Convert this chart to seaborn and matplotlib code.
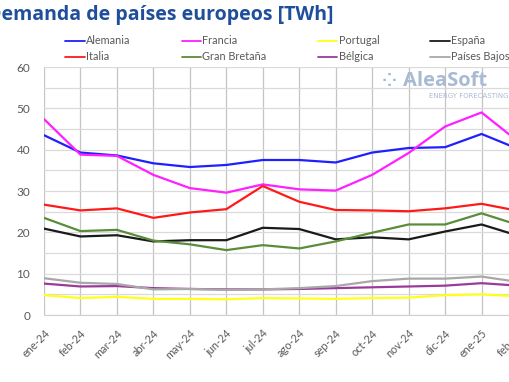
import pandas as pd
import numpy as np
import matplotlib
matplotlib.use("Agg")
import matplotlib.pyplot as plt
import seaborn as sns

# Monthly demand per country [TWh]
months = ['ene-24', 'feb-24', 'mar-24', 'abr-24', 'may-24', 'jun-24', 'jul-24',
          'ago-24', 'sep-24', 'oct-24', 'nov-24', 'dic-24', 'ene-25', 'feb-25']

alemania = [43.5, 39.3, 38.6, 36.7, 35.8, 36.3, 37.5, 37.5, 36.9, 39.3, 40.4, 40.6, 43.8, 40.2]
francia = [47.4, 38.8, 38.5, 33.9, 30.7, 29.6, 31.6, 30.4, 30.1, 33.9, 39.2, 45.6, 49.0, 42.0]
portugal = [4.8, 4.1, 4.4, 3.9, 3.9, 3.8, 4.1, 4.0, 3.9, 4.1, 4.2, 4.8, 5.0, 4.5]
espana = [20.9, 19.0, 19.3, 17.8, 18.1, 18.1, 21.1, 20.8, 18.3, 18.8, 18.3, 20.2, 21.9, 19.2]
italia = [26.7, 25.3, 25.8, 23.5, 24.8, 25.6, 31.2, 27.4, 25.4, 25.3, 25.1, 25.8, 26.9, 25.2]
gran_bretana = [23.5, 20.3, 20.6, 18.0, 17.1, 15.7, 16.9, 16.1, 17.8, 19.9, 21.9, 21.9, 24.6, 21.8]
belgica = [7.6, 6.9, 7.0, 6.5, 6.3, 6.2, 6.2, 6.3, 6.5, 6.7, 6.9, 7.1, 7.7, 7.1]
paises_bajos = [8.9, 7.8, 7.5, 6.2, 6.3, 6.1, 6.2, 6.5, 7.0, 8.2, 8.8, 8.8, 9.3, 8.0]

series = {
    'Alemania': alemania,
    'Francia': francia,
    'Portugal': portugal,
    'España': espana,
    'Italia': italia,
    'Gran Bretaña': gran_bretana,
    'Bélgica': belgica,
    'Países Bajos': paises_bajos,
}
colors = {
    'Alemania': '#1f1fff',
    'Francia': '#ff1fff',
    'Portugal': '#ffff1a',
    'España': '#1a1a1a',
    'Italia': '#ff1a1a',
    'Gran Bretaña': '#5b8c3a',
    'Bélgica': '#9b3a9b',
    'Países Bajos': '#a8a8a8',
}

df = pd.DataFrame(series)
df['idx'] = np.arange(len(months))
long = df.melt(id_vars='idx', var_name='País', value_name='TWh')

sns.set_style("white")
plt.rcParams['font.family'] = ['Lato', 'DejaVu Sans']

fig = plt.figure(figsize=(5.1, 3.82), dpi=100)
ax = fig.add_axes([44 / 510, 1 - 315 / 382, 474 / 510, 248 / 382])

sns.lineplot(data=long, x='idx', y='TWh', hue='País', palette=colors,
             hue_order=list(series.keys()), linewidth=1.6, legend=False, ax=ax)

ax.set_xlim(0, len(months) - 1)
ax.set_ylim(0, 60)
ax.set_xticks(np.arange(len(months)))
ax.set_xticklabels(months, rotation=45, ha='right', rotation_mode='anchor',
                   fontsize=7.8, color='#595959')
ax.set_yticks(np.arange(0, 61, 10))
ax.set_yticks(np.arange(0, 61, 5), minor=True)
ax.tick_params(axis='y', labelsize=8.5, colors='#595959', length=0, pad=10)
ax.tick_params(axis='x', length=0, pad=9)
ax.set_xlabel('')
ax.set_ylabel('')

ax.grid(axis='x', color='#c4c4c4', linewidth=0.9)
ax.grid(axis='y', which='both', color='#dadada', linewidth=0.9)
ax.set_axisbelow(True)
for s in ['top', 'right', 'left']:
    ax.spines[s].set_visible(False)
ax.spines['bottom'].set_color('#d0d0d0')

# legend, 4 columns filled row by row
handles = [plt.Line2D([], [], color=colors[k], linewidth=1.3) for k in series]
labels = list(series.keys())
order = [0, 4, 1, 5, 2, 6, 3, 7]
fig.legend([handles[i] for i in order], [labels[i] for i in order], ncol=4,
           loc='upper left', bbox_to_anchor=(60 / 510, 1 - 62 / 382, 455 / 510, 32 / 382),
           mode='expand', frameon=False, fontsize=7.8, labelcolor='#595959',
           handlelength=1.8, handletextpad=0.1, labelspacing=0.45, borderpad=0)

fig.text(-0.025, 1 - 15 / 382, 'Demanda de países europeos [TWh]', fontsize=14,
         fontweight='bold', color='#1f4e9a', va='center', ha='left', family=['Open Sans', 'DejaVu Sans'])

# watermark
fig.text(487 / 510, 1 - 81 / 382, 'AleaSoft', fontsize=14.5, fontweight='bold',
         color='#a9bad3', ha='right', va='center', family=['Open Sans', 'DejaVu Sans'])
fig.text(509 / 510, 1 - 96 / 382, 'ENERGY FORECASTING', fontsize=5,
         color='#a9bad3', ha='right', va='center', family=['DejaVu Sans'])
fig.text(382 / 510, 1 - 81 / 382, '⁘', fontsize=13, color='#a9bad3',
         ha='left', va='center', fontweight='bold', family=['DejaVu Sans'])

fig.savefig('out.png', dpi=100)
